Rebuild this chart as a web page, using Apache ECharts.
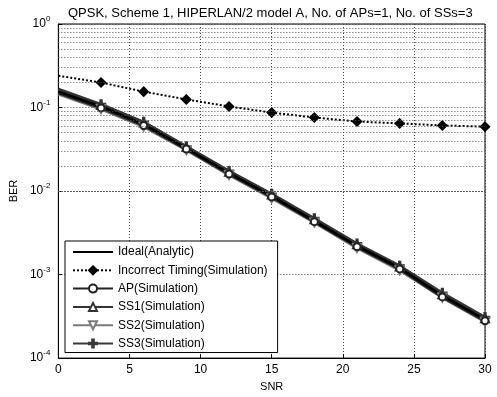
<!DOCTYPE html>
<html>
<head>
<meta charset="utf-8">
<script src="https://cdn.jsdelivr.net/npm/echarts@6/dist/echarts.min.js"></script>
<style>
  html, body { margin: 0; padding: 0; background: #fff; }
  #chart { width: 497px; height: 397px; }
</style>
</head>
<body>
<div id="chart"></div>
<script>
// SNR points (dB)
const snr = [0, 3, 6, 9, 12, 15, 18, 21, 24, 27, 30];

const ideal     = [0.155, 0.103, 0.063, 0.0325, 0.0164, 0.0087, 0.0044, 0.0022, 0.0012, 0.00056, 0.00029];
const incorrect = [0.24, 0.199, 0.155, 0.125, 0.103, 0.087, 0.076, 0.068, 0.0645, 0.061, 0.059];
const ap        = [0.150, 0.099, 0.061, 0.0318, 0.0160, 0.0085, 0.0043, 0.00215, 0.00117, 0.00054, 0.00028];
const ss1       = [0.162, 0.107, 0.066, 0.0336, 0.0170, 0.0091, 0.0046, 0.00230, 0.00125, 0.00058, 0.00030];
const ss2       = [0.145, 0.096, 0.059, 0.0310, 0.0156, 0.0082, 0.0042, 0.00208, 0.00113, 0.00053, 0.000272];
const ss3       = [0.166, 0.109, 0.067, 0.0340, 0.0173, 0.0092, 0.0047, 0.00234, 0.00127, 0.00060, 0.000308];

const seriesNames = [
  'Ideal(Analytic)',
  'Incorrect Timing(Simulation)',
  'AP(Simulation)',
  'SS1(Simulation)',
  'SS2(Simulation)',
  'SS3(Simulation)',
];

// minor log gridlines 2..9 x 10^k
const minorGrid = [];
[-4, -3, -2, -1].forEach((k) => {
  for (let m = 2; m <= 9; m++) minorGrid.push(m * Math.pow(10, k));
});

const font = 'Liberation Sans, Arial, sans-serif';

// first point carries no marker
const toPoints = (vals) =>
  vals.map((v, i) => (i === 0 ? { value: [snr[i], v], symbol: 'none' } : [snr[i], v]));

const chart = echarts.init(document.getElementById('chart'));

const lineSeries = (name, vals, color, symbol, extra) => Object.assign({
  name: name,
  type: 'line',
  data: toPoints(vals),
  symbol: symbol,
  symbolSize: 7,
  lineStyle: { color: color, width: 3 },
  itemStyle: { color: color, borderColor: color, borderWidth: 1.5 },
  emphasis: { disabled: true },
  animation: false,
  z: 3,
}, extra || {});

const option = {
  animation: false,
  title: {
    text: 'QPSK, Scheme 1, HIPERLAN/2 model A, No. of APs=1, No. of SSs=3',
    left: 63,
    top: 2,
    textStyle: { fontFamily: font, fontSize: 13, fontWeight: 'normal', color: '#000' },
  },
  grid: {
    left: 57,
    right: 12,
    top: 24,
    bottom: 37,
    show: true,
    borderColor: '#000',
    borderWidth: 1,
    backgroundColor: '#fff',
  },
  legend: {
    data: seriesNames,
    orient: 'vertical',
    left: 65,
    top: 241,
    padding: [5, 10, 3, 7],
    itemWidth: 40,
    itemHeight: 10,
    itemGap: 6.3,
    backgroundColor: '#fff',
    borderColor: '#000',
    borderWidth: 1,
    borderRadius: 0,
    selectedMode: false,
    textStyle: { fontFamily: font, fontSize: 12, color: '#000' },
    z: 10,
  },
  xAxis: {
    type: 'value',
    min: 0,
    max: 30,
    interval: 5,
    name: 'SNR',
    nameLocation: 'middle',
    nameGap: 21,
    nameTextStyle: { fontFamily: font, fontSize: 11, color: '#000' },
    axisLine: { show: true, lineStyle: { color: '#000' } },
    axisTick: { inside: true, length: 4, lineStyle: { color: '#000' } },
    axisLabel: { fontFamily: font, fontSize: 12, color: '#000', margin: 6 },
    splitLine: { show: true, lineStyle: { color: '#444', type: [1, 2], width: 1 } },
  },
  yAxis: {
    type: 'log',
    logBase: 10,
    min: 1e-4,
    max: 1,
    splitNumber: 4,
    name: 'BER',
    nameLocation: 'middle',
    nameGap: 36,
    nameRotate: 90,
    nameTextStyle: { fontFamily: font, fontSize: 11, color: '#000' },
    axisLine: { show: true, lineStyle: { color: '#000' } },
    axisTick: { inside: true, length: 4, lineStyle: { color: '#000' } },
    axisLabel: {
      fontFamily: font,
      color: '#000',
      margin: 8,
      formatter: (v) => '{b|10}{s|' + Math.round(Math.log10(v)) + '}',
      rich: {
        b: { fontFamily: font, fontSize: 12, color: '#000' },
        s: { fontFamily: font, fontSize: 8, color: '#000', padding: [0, 0, 10, 0] },
      },
    },
    splitLine: { show: true, lineStyle: { color: '#444', type: [1, 2], width: 1 } },
  },
  series: [
    {
      name: 'minor',
      type: 'line',
      data: [],
      silent: true,
      z: 1,
      markLine: {
        silent: true,
        symbol: 'none',
        label: { show: false },
        animation: false,
        lineStyle: { color: '#555', type: [1, 2], width: 1 },
        data: minorGrid.map((v) => ({ yAxis: v })),
      },
    },
    lineSeries(seriesNames[5], ss3, '#3a3a3a', 'path://M4,0h2v4h4v2h-4v4h-2v-4h-4v-2h4z', { symbolSize: 9 }),
    lineSeries(seriesNames[4], ss2, '#7a7a7a', 'emptyTriangle', { symbolRotate: 180, symbolSize: 8 }),
    lineSeries(seriesNames[3], ss1, '#333333', 'emptyTriangle', { symbolSize: 8 }),
    lineSeries(seriesNames[2], ap, '#222222', 'emptyCircle', { symbolSize: 7 }),
    lineSeries(seriesNames[0], ideal, '#000000', 'none', {
      lineStyle: { color: '#000', width: 2.5 },
      itemStyle: { color: '#000', opacity: 0 },
    }),
    lineSeries(seriesNames[1], incorrect, '#000000', 'diamond', {
      symbolSize: 9,
      lineStyle: { color: '#000', width: 2, type: [2, 2] },
    }),
  ],
};

chart.setOption(option);
</script>
</body>
</html>
